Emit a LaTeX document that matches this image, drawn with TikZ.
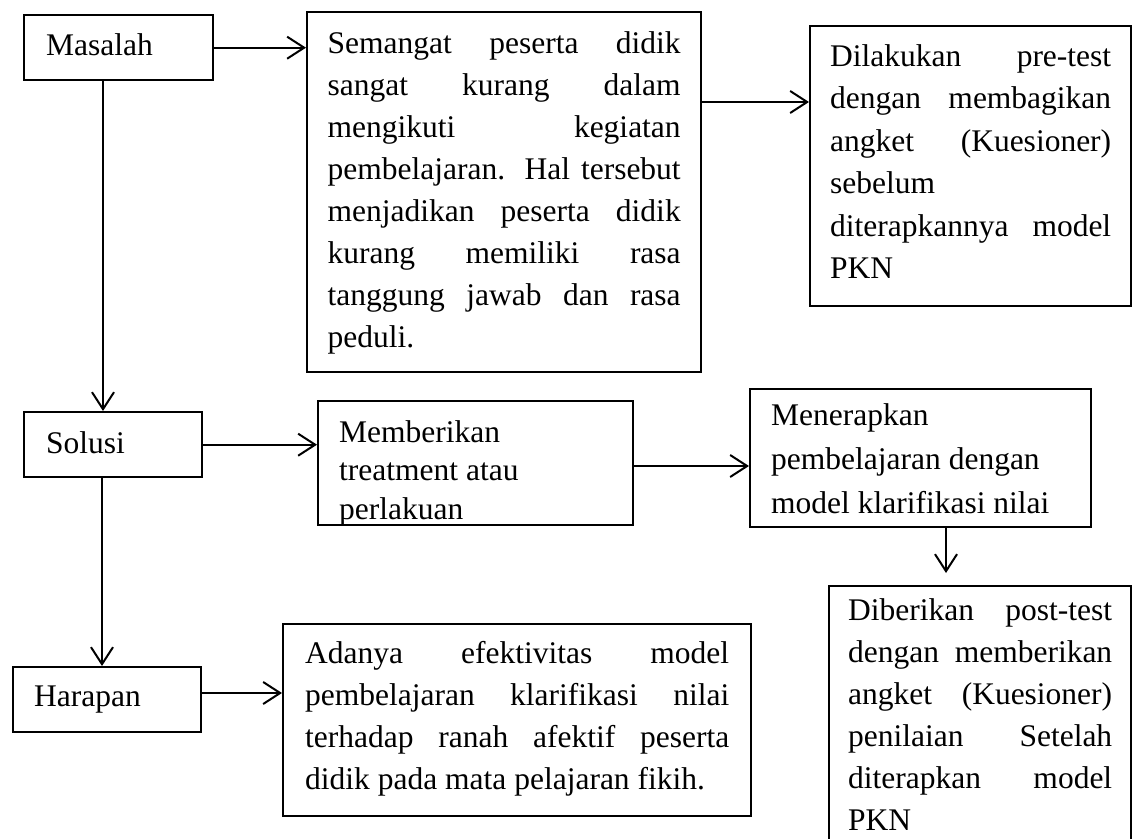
\documentclass[tikz,border=0pt]{standalone}
\usepackage{fontspec}
\setmainfont{Liberation Serif}[Ligatures=CommonOff]
\usetikzlibrary{arrows.meta}
\newcommand\jl[1]{\makebox[\linewidth][s]{#1}}
\newcommand\btext[4]{\parbox[c][#1][t]{#2}{\rule{0pt}{#3}#4}}
\tikzset{
  box/.style={draw, line width=2.4pt, inner sep=0pt, anchor=north west,
    font=\fontsize{31.5}{42}\selectfont},
  conn/.style={line width=2pt, -{Straight Barb[length=17pt,width=22pt]}},
}
\begin{document}
\begin{tikzpicture}[x=1pt,y=-1pt]
\useasboundingbox (0,0) rectangle (1132,838);
% left column
\node[box, minimum width=189pt, minimum height=65pt] (masalah) at (23,14)
  {\btext{65pt}{145pt}{40pt}{Masalah}};
\node[box, minimum width=178pt, minimum height=65pt] (solusi) at (23,411)
  {\btext{65pt}{134pt}{41pt}{Solusi}};
\node[box, minimum width=188pt, minimum height=65pt] (harapan) at (12,666)
  {\btext{65pt}{146pt}{39pt}{Harapan}};
% top row
\node[box, minimum width=394pt, minimum height=360pt] (semangat) at (306,11)
  {\btext{360pt}{353pt}{41pt}{\jl{Semangat peserta didik}\\
   \jl{sangat kurang dalam}\\
   \jl{mengikuti kegiatan}\\
   \jl{pembelajaran. Hal tersebut}\\
   \jl{menjadikan peserta didik}\\
   \jl{kurang memiliki rasa}\\
   \jl{tanggung jawab dan rasa}\\
   peduli.}};
\node[box, minimum width=321pt, minimum height=280pt,
  font=\fontsize{31.5}{42.5}\selectfont] (dilakukan) at (809,25)
  {\btext{280pt}{281pt}{40pt}{\jl{Dilakukan pre-test}\\
   \jl{dengan membagikan}\\
   \jl{angket (Kuesioner)}\\
   sebelum\\
   \jl{diterapkannya model}\\
   PKN}};
% middle row
\node[box, minimum width=315pt, minimum height=124pt,
  font=\fontsize{31.5}{38.5}\selectfont] (memberikan) at (317,400)
  {\btext{124pt}{273pt}{41pt}{Memberikan\\ treatment atau\\ perlakuan}};
\node[box, minimum width=341pt, minimum height=138pt,
  font=\fontsize{31.5}{44}\selectfont] (menerapkan) at (749,388)
  {\btext{138pt}{299pt}{36pt}{Menerapkan\\ pembelajaran dengan\\ model klarifikasi nilai}};
% bottom row
\node[box, minimum width=468pt, minimum height=192pt] (adanya) at (282,623)
  {\btext{192pt}{424pt}{39pt}{\jl{Adanya efektivitas model}\\
   \jl{pembelajaran klarifikasi nilai}\\
   \jl{terhadap ranah afektif peserta}\\
   didik pada mata pelajaran fikih.}};
\node[box, minimum width=302pt, minimum height=265pt,
  font=\fontsize{31.5}{42}\selectfont] (diberikan) at (828,585)
  {\btext{265pt}{264pt}{34pt}{\jl{Diberikan post-test}\\
   \jl{dengan memberikan}\\
   \jl{angket (Kuesioner)}\\
   \jl{penilaian Setelah}\\
   \jl{diterapkan model}\\
   PKN}};
% helper coordinates
\coordinate (v1) at (103,0);
\coordinate (v2) at (102,0);
\coordinate (v3) at (946,0);
\coordinate (h1) at (0,102);
\coordinate (h2) at (0,466);
\coordinate (h3) at (0,693);
% connectors
\draw[conn] (masalah.east) -- (masalah.east -| semangat.west);
\draw[conn] (semangat.east |- h1) -- (dilakukan.west |- h1);
\draw[conn] (masalah.south -| v1) -- (solusi.north -| v1);
\draw[conn] (solusi.south -| v2) -- (harapan.north -| v2);
\draw[conn] (solusi.east) -- (solusi.east -| memberikan.west);
\draw[conn] (memberikan.east |- h2) -- (menerapkan.west |- h2);
\draw[conn, shorten >=12pt] (menerapkan.south -| v3) -- (diberikan.north -| v3);
\draw[conn] (harapan.east |- h3) -- (adanya.west |- h3);
\end{tikzpicture}
\end{document}
